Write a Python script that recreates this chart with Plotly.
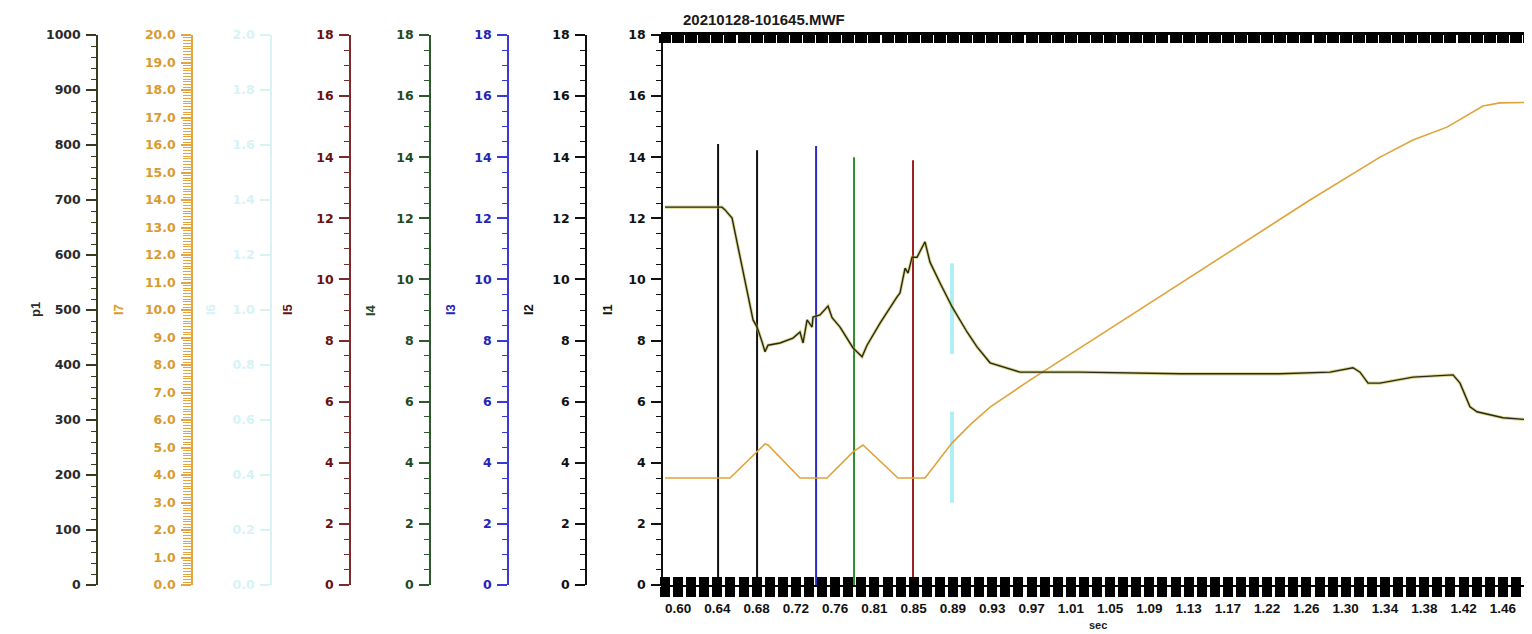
import numpy as np
import plotly.graph_objects as go

W, H = 1532, 634
OFF = 8  # page body margin offset (reference pixel -> figure pixel)
PX_L, PX_T, PX_B = 663, 35, 585   # reference pixels of plot area edges

# ---------------- data ----------------
# p1 (dark trace) - seconds / value on p1 scale (0-1000)
sec_p1 = [0.5864, 0.6459, 0.6491, 0.6564, 0.6783, 0.6825, 0.6877, 0.6908, 0.6939, 0.7065,
          0.7200, 0.7273, 0.7305, 0.7347, 0.7399, 0.7409, 0.7482, 0.7566, 0.7608, 0.7691,
          0.7827, 0.7921, 0.7973, 0.8109, 0.8286, 0.8317, 0.8370, 0.8401, 0.8443, 0.8495,
          0.8578, 0.8630, 0.8735, 0.8860, 0.9017, 0.9121, 0.9257, 0.9330, 0.9570, 1.0196,
          1.1240, 1.2284, 1.2806, 1.3046, 1.3119, 1.3203, 1.3328, 1.3672, 1.4090, 1.4163,
          1.4267, 1.4340, 1.4612, 1.4998]
p1_vals = [687, 687, 682, 667, 482, 469, 442, 424, 436, 440,
           449, 460, 440, 482, 469, 487, 491, 507, 486, 469,
           431, 415, 436, 476, 524, 531, 576, 567, 596, 596,
           624, 587, 549, 506, 460, 433, 404, 400, 387, 387,
           384, 384, 387, 395, 387, 367, 367, 378, 382, 367,
           324, 315, 304, 299]

# I7 (orange trace) on 0-20 scale
sec_i7 = [0.5864, 0.6543, 0.6908, 0.6939, 0.7273, 0.7555, 0.7827, 0.7931, 0.8296, 0.8578,
          0.8860, 0.9048, 0.9257, 0.9674, 1.2597, 1.3328, 1.3672, 1.4027, 1.4403, 1.4580,
          1.4998]
i7_vals = [3.89, 3.89, 5.13, 5.09, 3.89, 3.89, 4.84, 5.09, 3.89, 3.89,
           5.16, 5.82, 6.47, 7.45, 14.0, 15.56, 16.18, 16.65, 17.42, 17.53,
           17.56]

# pulse channels I1..I5 (vertical spikes)
spike_names = ["I1", "I2", "I3", "I4", "I5"]
spike_sec = [0.6418, 0.6825, 0.7441, 0.7837, 0.8453]
spike_peak = [14.43, 14.23, 14.37, 14.0, 13.9]

# I6 (faint cyan pulse) on 0-2 scale
i6_sec = 0.8860
i6_vals = [1.17, 0.84, None, 0.63, 0.30]

# x tick labels
x_tick_vals = [0.600, 0.641, 0.682, 0.723, 0.764, 0.805, 0.846, 0.887, 0.928, 0.969, 1.010,
               1.051, 1.092, 1.133, 1.174, 1.215, 1.256, 1.297, 1.338, 1.379, 1.420, 1.461]
x_tick_labels = ["0.60", "0.64", "0.68", "0.72", "0.76", "0.81", "0.85", "0.89", "0.93", "0.97",
                 "1.01", "1.05", "1.09", "1.13", "1.17", "1.22", "1.26", "1.30", "1.34", "1.38",
                 "1.42", "1.46"]
x_range = [0.5843, 1.4998]
title_text = "20210128-101645.MWF"


def fx(px):
    """reference x pixel -> paper fraction"""
    return (px - OFF) / W


def fy(py):
    """reference y pixel -> paper fraction of plot area"""
    return (PX_B - py) / (PX_B - PX_T)


# ---------------- styling ----------------
axis_cfg = {
    # name: (axis id, line px, range, dtick, minor dtick, line colour, text colour, format)
    "I1": ("y",  663, [0, 18], 2, 0.5, "#111111", "#111111", None),
    "I2": ("y2", 586, [0, 18], 2, 0.5, "#111111", "#111111", None),
    "I3": ("y3", 508, [0, 18], 2, 0.5, "#3a3ad6", "#2424b8", None),
    "I4": ("y4", 430, [0, 18], 2, 0.5, "#2d5a2d", "#1f4a1f", None),
    "I5": ("y5", 350, [0, 18], 2, 0.5, "#7b2b2b", "#6a1010", None),
    "I6": ("y6", 271, [0, 2], 0.2, None, "#d6f3f6", "#d6f3f6", ".1f"),
    "I7": ("y7", 192, [0, 20], 1, 0.1, "#e3a53f", "#d99a2e", ".1f"),
    "p1": ("y8", 97, [0, 1000], 100, 20, "#3b3b1f", "#2a2a2a", None),
}
title_px = {"I1": 607, "I2": 528, "I3": 450, "I4": 370, "I5": 287, "I6": 210, "I7": 118, "p1": 35}
spike_colors = {"I1": "#111111", "I2": "#111111", "I3": "#2b2bc8", "I4": "#2f8f2f", "I5": "#9a1f1f"}

fig = go.Figure()

# p1 trace: yellowish halo + dark core
fig.add_trace(go.Scatter(x=sec_p1, y=p1_vals, mode="lines", yaxis="y8",
                         line=dict(color="rgba(190,180,60,0.55)", width=3.2)))
fig.add_trace(go.Scatter(x=sec_p1, y=p1_vals, mode="lines", yaxis="y8",
                         line=dict(color="#2a2a10", width=1.4)))
# I7 orange
fig.add_trace(go.Scatter(x=sec_i7, y=i7_vals, mode="lines", yaxis="y7",
                         line=dict(color="#e0a33a", width=1.6)))
# I6 cyan faint pulse
fig.add_trace(go.Scatter(x=[i6_sec] * len(i6_vals), y=i6_vals, mode="lines", yaxis="y6",
                         line=dict(color="rgba(110,222,240,0.55)", width=4), connectgaps=False))
# spikes
for name, t, pk in zip(spike_names, spike_sec, spike_peak):
    fig.add_trace(go.Scatter(x=[t, t], y=[0, pk], mode="lines", yaxis=axis_cfg[name][0],
                             line=dict(color=spike_colors[name], width=2)))
# dummy traces for the decorative overlay x-axes
fig.add_trace(go.Scatter(x=[None], y=[None], xaxis="x2", yaxis="y", mode="lines"))
fig.add_trace(go.Scatter(x=[None], y=[None], xaxis="x3", yaxis="y", mode="lines"))

# x-axis block ticks (dense black band)
step = (x_tick_vals[1] - x_tick_vals[0]) / 3
blocks = [x_tick_vals[0] + step * k for k in range(-1, 70)]
blocks = [b for b in blocks if x_range[0] <= b <= x_range[1]]
block_text = []
for b in blocks:
    lab = ""
    for v, t in zip(x_tick_vals, x_tick_labels):
        if abs(b - v) < 1e-6:
            lab = t
    block_text.append(lab)

layout = dict(
    width=W, height=H,
    margin=dict(l=0, r=0, t=PX_T - OFF, b=H - (PX_B - OFF), pad=0),
    paper_bgcolor="white", plot_bgcolor="white",
    showlegend=False, hovermode=False,
    xaxis=dict(domain=[fx(PX_L), 1], range=x_range, anchor="y",
               tickmode="array", tickvals=blocks, ticktext=block_text,
               ticks="outside", ticklen=10, tickwidth=10, tickcolor="#000000",
               showline=True, linecolor="#000000", linewidth=2,
               showgrid=False, zeroline=False, fixedrange=True,
               tickfont=dict(family="Liberation Sans, Arial", size=13.5, color="#111111", weight="bold")),
    xaxis2=dict(domain=[fx(PX_L), 1], range=x_range, anchor="y", overlaying="x", side="bottom",
                tickmode="array", tickvals=blocks, showticklabels=False,
                ticks="inside", ticklen=8, tickwidth=10, tickcolor="#000000",
                showline=False, showgrid=False, zeroline=False, fixedrange=True),
    xaxis3=dict(domain=[fx(PX_L), 1], range=x_range, anchor="y", overlaying="x", side="top",
                tickmode="array", tickvals=blocks, showticklabels=False,
                ticks="inside", ticklen=8, tickwidth=12, tickcolor="#000000",
                showline=True, linecolor="#000000", linewidth=3,
                showgrid=False, zeroline=False, fixedrange=True),
)

for name, (aid, px, rng, dt, mdt, lc, tc, fmt) in axis_cfg.items():
    d = dict(range=rng, tickmode="linear", tick0=0, dtick=dt,
             showgrid=False, zeroline=False, showline=True, linecolor=lc, linewidth=1.5,
             ticks="outside", ticklen=10, tickwidth=1.5, tickcolor=lc,
             tickfont=dict(family="DejaVu Sans", size=12.5, color=tc, weight="bold"),
             fixedrange=True, automargin=False, side="left", ticklabelstandoff=3)
    if mdt:
        d["minor"] = dict(tick0=0, dtick=mdt, ticks="outside",
                          ticklen=(8 if name == "I7" else 5), tickwidth=1, tickcolor=lc, showgrid=False)
    if fmt:
        d["tickformat"] = fmt
    if aid == "y":
        d.update(anchor="x", domain=[0, 1])
        layout["yaxis"] = d
    else:
        d.update(anchor="free", overlaying="y", position=fx(px))
        layout["yaxis" + aid[1:]] = d

annotations = []
for name, (aid, px, rng, dt, mdt, lc, tc, fmt) in axis_cfg.items():
    annotations.append(dict(text=name, xref="paper", yref="paper",
                            x=fx(title_px[name]), y=0.5, xanchor="center", yanchor="middle",
                            textangle=-90, showarrow=False,
                            font=dict(family="Liberation Sans, Arial", size=13, color=tc, weight="bold")))
annotations.append(dict(text=title_text, xref="paper", yref="paper",
                        x=fx(681), y=fy(8.5), xanchor="left", yanchor="top",
                        showarrow=False,
                        font=dict(family="Liberation Sans, Arial", size=15, color="#1a1a1a", weight="bold")))
annotations.append(dict(text="sec", xref="paper", yref="paper",
                        x=fx(1098), y=fy(625), xanchor="center", yanchor="middle",
                        showarrow=False,
                        font=dict(family="Liberation Sans, Arial", size=11, color="#1a1a1a", weight="bold")))
layout["annotations"] = annotations

fig.update_layout(**layout)
fig.write_html("out.html")
